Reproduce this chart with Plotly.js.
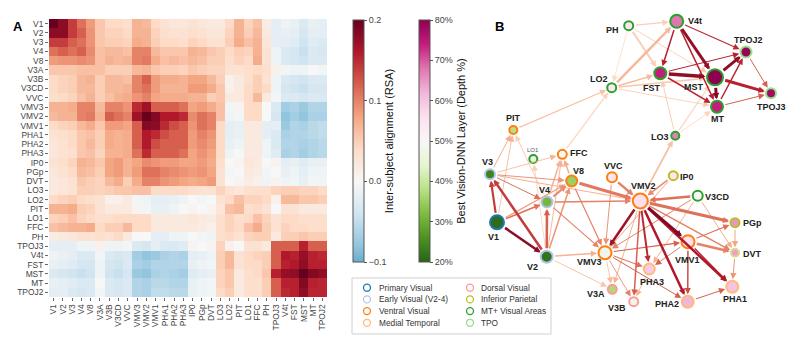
<!DOCTYPE html>
<html><head><meta charset="utf-8">
<script src="https://cdn.plot.ly/plotly-3.0.1.min.js"></script>
<style>html,body{margin:0;padding:0;background:#fff}#chart{width:793px;height:340px}</style>
</head><body><div id="chart"></div>
<script>
// ---------------- DATA ----------------
const regions = ['V1','V2','V3','V4','V8','V3A','V3B','V3CD','VVC','VMV3','VMV2','VMV1','PHA1','PHA2','PHA3','IP0','PGp','DVT','LO3','LO2','PIT','LO1','FFC','PH','TPOJ3','V4t','FST','MST','MT','TPOJ2'];

// upper triangle of the inter-subject RSA matrix (row i, columns i..29)
const rsaUpper = [
 [0.2,0.18,0.14,0.11,0.085,0.055,0.04,0.04,0.035,0.07,0.065,0.04,0.03,0.025,0.025,0.03,0.025,0.02,0.02,0.04,0.07,0.045,0.06,0.015,-0.02,-0.01,-0.015,-0.03,-0.015,-0.02],
 [0.18,0.14,0.12,0.09,0.055,0.045,0.045,0.04,0.07,0.07,0.045,0.035,0.03,0.03,0.035,0.03,0.025,0.025,0.045,0.07,0.05,0.065,0.02,-0.02,-0.015,-0.02,-0.035,-0.02,-0.02],
 [0.12,0.11,0.09,0.055,0.05,0.05,0.045,0.075,0.07,0.05,0.04,0.04,0.035,0.045,0.04,0.03,0.03,0.05,0.075,0.06,0.07,0.025,-0.02,-0.02,-0.025,-0.04,-0.025,-0.03],
 [0.12,0.095,0.06,0.065,0.065,0.06,0.1,0.1,0.065,0.055,0.055,0.055,0.07,0.065,0.055,0.05,0.04,0.05,0.045,0.07,0.03,-0.01,-0.03,-0.035,-0.045,-0.03,-0.035],
 [0.09,0.06,0.07,0.065,0.07,0.1,0.105,0.075,0.06,0.065,0.06,0.065,0.06,0.05,0.05,0.035,0.045,0.04,0.075,0.03,-0.01,-0.03,-0.035,-0.04,-0.03,-0.03],
 [0.06,0.05,0.05,0.05,0.065,0.07,0.055,0.05,0.05,0.045,0.055,0.05,0.045,0.045,0.03,0.03,0.035,0.04,0.035,0.01,-0.005,-0.01,-0.01,0.0,-0.005],
 [0.065,0.065,0.06,0.1,0.12,0.085,0.075,0.075,0.07,0.08,0.08,0.065,0.05,0.01,0.02,0.035,0.05,0.03,-0.01,-0.03,-0.035,-0.04,-0.03,-0.03],
 [0.065,0.07,0.1,0.11,0.085,0.07,0.07,0.07,0.085,0.085,0.075,0.055,0.01,0.02,0.04,0.05,0.04,-0.01,-0.035,-0.04,-0.045,-0.035,-0.035],
 [0.075,0.09,0.1,0.08,0.075,0.075,0.075,0.07,0.07,0.05,0.055,0.02,0.02,0.04,0.065,0.02,-0.005,-0.03,-0.03,-0.035,-0.03,-0.03],
 [0.15,0.17,0.12,0.12,0.12,0.11,0.08,0.085,0.075,0.06,-0.005,0.005,0.04,0.04,0.0,-0.03,-0.07,-0.065,-0.075,-0.06,-0.06],
 [0.2,0.185,0.16,0.16,0.15,0.095,0.11,0.1,0.06,-0.01,-0.005,0.04,0.04,0.0,-0.035,-0.08,-0.07,-0.08,-0.065,-0.065],
 [0.18,0.15,0.13,0.12,0.09,0.11,0.1,0.04,-0.02,-0.015,0.02,0.02,-0.02,-0.02,-0.075,-0.06,-0.065,-0.055,-0.05],
 [0.13,0.12,0.12,0.085,0.1,0.09,0.04,-0.02,-0.015,0.02,0.02,-0.02,-0.03,-0.065,-0.06,-0.06,-0.055,-0.05],
 [0.12,0.12,0.085,0.095,0.085,0.04,-0.015,-0.01,0.02,0.02,-0.01,-0.03,-0.06,-0.06,-0.065,-0.06,-0.055],
 [0.11,0.08,0.09,0.08,0.04,-0.01,0.0,0.02,0.02,-0.01,-0.025,-0.065,-0.06,-0.07,-0.06,-0.055],
 [0.08,0.085,0.075,0.035,0.0,0.005,0.025,0.02,0.0,0.005,-0.02,-0.015,-0.025,-0.015,-0.015],
 [0.09,0.08,0.03,-0.005,0.0,0.02,0.015,-0.005,0.0,-0.015,-0.01,-0.02,-0.01,-0.01],
 [0.085,0.03,0.0,0.005,0.015,0.01,-0.01,0.005,-0.01,-0.005,-0.015,-0.005,-0.005],
 [0.045,0.03,0.025,0.035,0.035,0.035,0.045,0.05,0.05,0.045,0.045,0.04],
 [0.04,0.06,0.045,0.045,0.04,0.01,0.065,0.065,0.055,0.055,0.05],
 [0.065,0.035,0.04,0.03,0.0,0.03,0.03,0.02,0.02,0.02],
 [0.04,0.06,0.045,0.03,0.04,0.04,0.035,0.035,0.035],
 [0.075,0.05,0.03,0.045,0.04,0.04,0.035,0.035],
 [0.05,0.02,0.05,0.05,0.055,0.05,0.05],
 [0.12,0.12,0.12,0.155,0.12,0.12],
 [0.16,0.155,0.175,0.155,0.15],
 [0.16,0.178,0.155,0.155],
 [0.2,0.185,0.178],
 [0.155,0.152],
 [0.152]
];
const rsaTicks = [-0.1, 0, 0.1, 0.2];
const rsaTickText = ['\u22120.1','0.0','0.1','0.2'];

// network nodes (layout positions, best-layer depth %, size, group)
const nodeX     = [497,546.7,490,547,571.7,612.3,633.7,697.7,612,605,640.3,688,732.3,687.7,649.3,673.3,735,735,675.3,611.7,513.3,533.3,562.3,628.7,771,676.7,660.3,715,717,746];
const nodeY     = [222.3,256.7,174.3,202,181,289.3,301.7,195.7,177.3,252.7,201,241.7,286.7,301.7,269,175.7,222.7,252.7,135.7,87.7,130,159,154.3,25.7,93.3,21.3,73.3,77.3,106.7,52];
const nodeDepth = [21,22,24,31,35,37,48,50,55,48,56,56,60,62,59,55,65,64,67,54,38,47,49,54,78,68,74,80,74,79];
const nodeSize  = [16,14,12,13,13,11,11,12,12,15,17,15,14,14,13,11,11,10,10,11,10,10,11,11,12,15,14,18,14,13];
const nodeGroup = [0,1,1,1,2,4,4,6,2,2,2,2,3,3,3,5,5,8,6,6,2,6,2,6,7,6,6,6,6,7];
const depthTicks = [20,30,40,50,60,70,80];

const groupNames  = ['Primary Visual','Early Visual (V2-4)','Ventral Visual','Medial Temporal','Dorsal Visual','Inferior Parietal','MT+ Visual Areas','TPO','Posterior Cingulate'];
const groupColors = ['#1f77b4','#aec7e8','#ff7f0e','#ffbb78','#ff9896','#bcbd22','#2ca02c','#98df8a','#dbdb8d'];
const legendOrder = [[0,1,2,3],[4,5,6,7]];

// directed edges: [source, target, line width]
const edges = [
 ['PH','V4t',1.2],['PH','FST',2],['PH','MST',0.8],['PH','LO2',0.8],
 ['LO2','V4t',2.5],['LO2','FST',1.5],['LO2','MST',1.5],['LO2','MT',0.8],
 ['PIT','LO2',1.2],['FFC','LO2',1.2],
 ['V4t','MST',3],['V4t','FST',1.5],['V4t','MT',1.5],['V4t','TPOJ2',1.2],
 ['FST','MST',3.5],['FST','MT',1.5],['FST','TPOJ2',1],
 ['MST','TPOJ3',3],['MST','TPOJ2',3],['MST','MT',3],
 ['MT','TPOJ2',1.5],['MT','TPOJ3',1],['TPOJ2','TPOJ3',1],
 ['LO3','FST',1],['LO3','MST',1.2],['LO3','MT',0.8],['VMV2','LO3',1.8],
 ['V1','V2',2.5],['V1','V3',2.2],['V2','V3',2.5],['V2','V4',2.5],['V1','V4',1.5],['V1','V8',1.2],
 ['V4','V8',2.2],['V2','V8',1.5],['V3','V8',1],['V3','V4',1],
 ['V3','VMV2',1],['V4','VMV2',1.5],['V8','VMV2',3],
 ['V4','VMV3',1.2],['V8','VMV3',1.2],['V2','VMV3',1.5],['V2','V3A',1],
 ['V3','PIT',1],['V4','PIT',1],['V1','PIT',0.8],
 ['V4','FFC',1.5],['V8','FFC',1.5],['V3','FFC',0.8],['V2','LO1',0.8],['V2','FFC',1],
 ['VVC','VMV2',2.5],['VVC','VMV3',1],['IP0','VMV2',1.5],['IP0','VMV3',1],
 ['V3CD','VMV2',2.5],['V3CD','VMV3',1],['V3CD','PHA3',1],['V3CD','DVT',1],
 ['VMV2','PGp',3],['VMV2','VMV1',3],['VMV2','PHA1',2.5],['VMV2','PHA2',2.5],['VMV2','VMV3',2.5],
 ['VMV2','PHA3',2],['VMV2','V3B',1.5],['VMV2','V3A',1],['VMV2','DVT',1.5],
 ['VMV3','VMV1',1.2],['VMV3','PHA3',1],['VMV3','PHA2',1],['VMV3','V3A',0.8],['VMV3','V3B',0.8],
 ['VMV1','DVT',2.5],['VMV1','PGp',1.2],['VMV1','PHA3',0.8],['VMV1','PHA1',1.5],['VMV1','PHA2',1.5],
 ['PHA2','PHA1',1],['PGp','DVT',1],['DVT','PHA1',1],['PHA3','V3B',0.8]
];

// node label offsets (style)
const labelDX = [-4,-14,-3,-3,7,-16,-17,20,1,-16,3,-1,3,-21,3,14,17,17,-15,-13,0,0,17,-16,0,18,-8,-21,0,2];
const labelDY = [15,10,-12,-12,-10,5,6,1,-11,9,-15,18,12,2,13,1,0,1,1,-9,-12,-9,-1,4,14,0,15,10,12,-12];

// ---------------- BUILD ----------------
const N = regions.length;
const rsa = [];
for (let i=0;i<N;i++) rsa.push(new Array(N).fill(0));
for (let i=0;i<N;i++) for (let j=i;j<N;j++) { rsa[i][j]=rsaUpper[i][j-i]; rsa[j][i]=rsaUpper[i][j-i]; }

const rsaScale = [[0,'#6aacd0'],[0.0667,'#92c5de'],[0.2,'#d1e5f0'],[0.3333,'#f7f7f7'],[0.4667,'#fddbc7'],[0.6,'#f4a582'],[0.7333,'#d6604d'],[0.8667,'#b2182b'],[1,'#67001f']];
const depthScale = [[0,'#276419'],[0.1,'#4d9221'],[0.2,'#7fbc41'],[0.3,'#b8e186'],[0.4,'#e6f5d0'],[0.5,'#f7f7f7'],[0.6,'#fde0ef'],[0.7,'#f1b6da'],[0.8,'#de77ae'],[0.9,'#c51b7d'],[1,'#8e0152']];
const RSA_MIN=-0.1, RSA_MAX=0.2;

function hex2rgb(h){return [1,3,5].map(k=>parseInt(h.substr(k,2),16));}
function scaleColor(stops,t){
  t=Math.max(0,Math.min(1,t));
  for(let k=1;k<stops.length;k++){
    if(t<=stops[k][0]){
      const a=stops[k-1],b=stops[k],f=(t-a[0])/(b[0]-a[0]);
      const ca=hex2rgb(a[1]),cb=hex2rgb(b[1]);
      return 'rgb('+ca.map((c,m)=>Math.round(c+(cb[m]-c)*f)).join(',')+')';
    }
  }
  return stops[stops.length-1][1];
}

const W=793, H=340;
const FONT='Liberation Sans, Arial, sans-serif';
const idx = {}; regions.forEach((r,i)=>idx[r]=i);

const heat = {
  type:'heatmap', z:rsa, x:regions, y:regions, xaxis:'x', yaxis:'y',
  zmin:RSA_MIN, zmax:RSA_MAX, colorscale:rsaScale, hoverinfo:'skip',
  colorbar:{x:352.5/W, xanchor:'left', y:1-20/H, yanchor:'top', len:242/H, lenmode:'fraction',
    thickness:11, thicknessmode:'pixels', xpad:0, ypad:0, outlinewidth:1, outlinecolor:'#555',
    tickvals:rsaTicks, ticktext:rsaTickText, ticks:'outside', ticklen:3, tickwidth:1, tickcolor:'#555',
    tickfont:{size:9, color:'#444', family:FONT},
    title:{text:'Inter-subject alignment (RSA)', side:'right', font:{size:11, color:'#111', family:FONT}}}
};

const nodes = {
  type:'scatter', mode:'markers', x:nodeX, y:nodeY, xaxis:'x2', yaxis:'y2', hoverinfo:'skip', showlegend:false,
  marker:{size:nodeSize.map(s=>s-2), color:nodeDepth, cmin:20, cmax:80, colorscale:depthScale,
    line:{color:nodeGroup.map(g=>groupColors[g]), width:2}, opacity:1,
    colorbar:{x:419/W, xanchor:'left', y:1-20/H, yanchor:'top', len:242/H, lenmode:'fraction',
      thickness:11, thicknessmode:'pixels', xpad:0, ypad:0, outlinewidth:1, outlinecolor:'#555',
      tickvals:depthTicks, ticktext:depthTicks.map(v=>v+'%'), ticks:'outside', ticklen:3, tickwidth:1, tickcolor:'#555',
      tickfont:{size:9, color:'#444', family:FONT},
      title:{text:'Best Vision-DNN Layer (Depth %)', side:'right', font:{size:11, color:'#111', family:FONT}}}}
};

// legend (drawn manually, compact like the reference)
const legX=[], legY=[], legC=[];
const annotations = [];
const legMarkerX=[367,470], legTextX=[376.5,479], legRowY0=287.7, legRowDY=11.7;
legendOrder.forEach((col,c)=>col.forEach((g,r)=>{
  legX.push(legMarkerX[c]); legY.push(legRowY0+r*legRowDY); legC.push(groupColors[g]);
  annotations.push({xref:'x2',yref:'y2',x:legTextX[c],y:legRowY0+r*legRowDY,text:groupNames[g],showarrow:false,
    xanchor:'left',yanchor:'middle',font:{size:8.3,color:'#333',family:FONT}});
}));
const legendMarks = {type:'scatter',mode:'markers',x:legX,y:legY,xaxis:'x2',yaxis:'y2',hoverinfo:'skip',showlegend:false,
  marker:{symbol:'circle-open',size:7,color:legC,line:{width:1.3,color:legC}}};

// edges as arrows, weakest first
const edgeList = edges.map(([s,t,w])=>({i:idx[s],j:idx[t],w:w,v:rsa[idx[s]][idx[t]]})).sort((a,b)=>a.v-b.v);
const edgeAnn = edgeList.map(e=>({
  xref:'x2',yref:'y2',axref:'x2',ayref:'y2',
  x:nodeX[e.j],y:nodeY[e.j],ax:nodeX[e.i],ay:nodeY[e.i],
  text:'',showarrow:true,arrowhead:2,arrowwidth:e.w,arrowsize:Math.min(1.6,1.25/e.w),
  arrowcolor:scaleColor(rsaScale,(e.v-RSA_MIN)/(RSA_MAX-RSA_MIN)),
  standoff:nodeSize[e.j]/2+0.5,startstandoff:nodeSize[e.i]/2
}));

const labelAnn = regions.map((r,i)=>({
  xref:'x2',yref:'y2',x:nodeX[i],y:nodeY[i],xshift:labelDX[i],yshift:-labelDY[i],
  text: r==='LO1' ? r : '<b>'+r+'</b>', showarrow:false, xanchor:'center', yanchor:'middle',
  font: r==='LO1' ? {size:6,color:'#555',family:FONT} : {size:9,color:'#222',family:FONT}
}));

const panelAnn = [
  {xref:'x2',yref:'y2',x:18,y:26,text:'<b>A</b>',showarrow:false,font:{size:13,color:'#000',family:FONT}},
  {xref:'x2',yref:'y2',x:499.5,y:26.5,text:'<b>B</b>',showarrow:false,font:{size:13,color:'#000',family:FONT}}
];

const axCommon = {ticks:'outside',ticklen:3,tickwidth:0.8,tickcolor:'#444',showgrid:false,zeroline:false,showline:false,
  tickfont:{size:8.4,color:'#444',family:FONT},fixedrange:true,type:'category',
  tickmode:'array',tickvals:regions,ticktext:regions};

const layout = {
  width:W,height:H,margin:{l:0,r:0,t:0,b:0,pad:0},
  paper_bgcolor:'#fff',plot_bgcolor:'rgba(0,0,0,0)',
  font:{family:FONT},showlegend:false,
  xaxis:Object.assign({},axCommon,{domain:[49/W,327/W],anchor:'y',tickangle:-90}),
  yaxis:Object.assign({},axCommon,{domain:[1-297/H,1-19/H],anchor:'x',autorange:'reversed'}),
  xaxis2:{domain:[0,1],range:[0,W],visible:false,fixedrange:true,anchor:'y2'},
  yaxis2:{domain:[0,1],range:[H,0],visible:false,fixedrange:true,anchor:'x2'},
  shapes:[{type:'rect',xref:'x2',yref:'y2',x0:352,x1:551,y0:278,y1:334,line:{color:'#d0d0d0',width:1},fillcolor:'#fff',layer:'below'}],
  annotations: edgeAnn.concat(labelAnn, annotations, panelAnn)
};

Plotly.newPlot('chart',[heat,nodes,legendMarks],layout,{displayModeBar:false,staticPlot:true});
</script>
</body></html>
